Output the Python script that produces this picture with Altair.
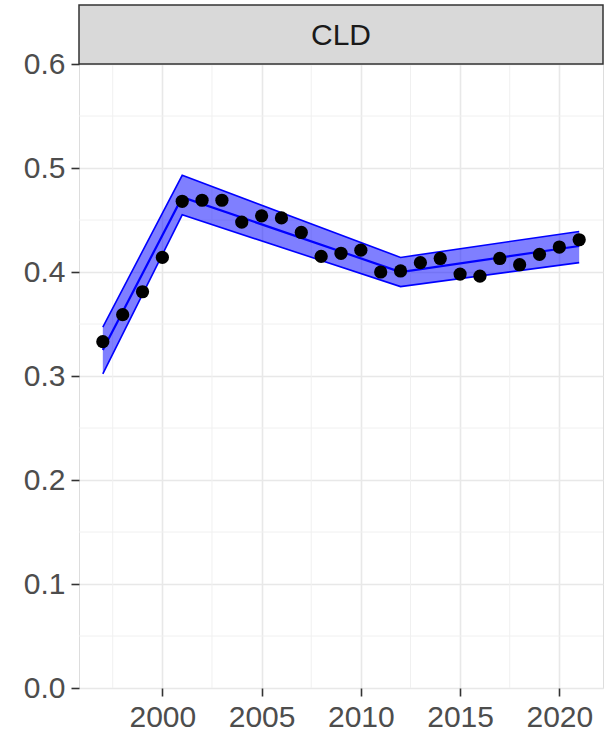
import altair as alt
import pandas as pd

# Observed yearly values
years = list(range(1997, 2022))
values = [0.333, 0.359, 0.381, 0.414, 0.468, 0.469, 0.469, 0.448, 0.454, 0.452,
          0.438, 0.415, 0.418, 0.421, 0.400, 0.401, 0.409, 0.413, 0.398, 0.396,
          0.413, 0.407, 0.417, 0.424, 0.431]

# Joinpoint fit with its confidence band (segments are straight between knots)
knot_years = [1997, 2001, 2012, 2021]
fit = [0.325, 0.472, 0.400, 0.425]
fit_lower = [0.302, 0.455, 0.386, 0.409]
fit_upper = [0.347, 0.493, 0.414, 0.439]

panel_label = ["CLD"]

# Gridline positions (ggplot-style major / minor breaks)
x_major = [2000, 2005, 2010, 2015, 2020]
x_minor = [1997.5, 2002.5, 2007.5, 2012.5, 2017.5]
y_major = [0.0, 0.1, 0.2, 0.3, 0.4, 0.5, 0.6]
y_minor = [0.05, 0.15, 0.25, 0.35, 0.45, 0.55]

W, H = 524, 624
FONT = "Liberation Sans"
FS = 30

obs = pd.DataFrame({"year": years, "value": values})
fit_df = pd.DataFrame({"year": knot_years, "fit": fit, "lo": fit_lower, "hi": fit_upper})
strip_df = pd.DataFrame({"label": panel_label})

x_scale = alt.Scale(domain=[1995.8, 2022.2], nice=False, zero=False)
y_scale = alt.Scale(domain=[0, 0.6], nice=False)

x_axis = alt.Axis(values=x_major, format="d", title=None, grid=True,
                  gridColor="#E8E8E8", gridWidth=1.6, domain=False,
                  tickColor="#333333", tickWidth=1.6, tickSize=8,
                  labelFont=FONT, labelFontSize=FS, labelColor="#4D4D4D",
                  labelPadding=6)
y_axis = alt.Axis(values=y_major, format=".1f", title=None, grid=True,
                  gridColor="#E8E8E8", gridWidth=1.6, domain=False,
                  tickColor="#333333", tickWidth=1.6, tickSize=8,
                  labelFont=FONT, labelFontSize=FS, labelColor="#4D4D4D",
                  labelPadding=6)

minor_x = alt.Chart(pd.DataFrame({"x": x_minor})).mark_rule(
    color="#F0F0F0", strokeWidth=1.0
).encode(x=alt.X("x:Q", scale=x_scale, axis=x_axis))

minor_y = alt.Chart(pd.DataFrame({"y": y_minor})).mark_rule(
    color="#F0F0F0", strokeWidth=1.0
).encode(y=alt.Y("y:Q", scale=y_scale, axis=y_axis))

band = alt.Chart(fit_df).mark_area(color="#0000FF", opacity=0.5).encode(
    x=alt.X("year:Q", scale=x_scale, axis=x_axis),
    y=alt.Y("lo:Q", scale=y_scale, axis=y_axis),
    y2="hi:Q",
)


def fit_edge(field, width):
    return alt.Chart(fit_df).mark_line(color="#0000FF", strokeWidth=width).encode(
        x=alt.X("year:Q", scale=x_scale, axis=x_axis),
        y=alt.Y(f"{field}:Q", scale=y_scale, axis=y_axis),
    )


lower_edge = fit_edge("lo", 1.6)
upper_edge = fit_edge("hi", 1.6)
fit_line = fit_edge("fit", 2.2)

points = alt.Chart(obs).mark_circle(color="black", size=175, opacity=1).encode(
    x=alt.X("year:Q", scale=x_scale, axis=x_axis),
    y=alt.Y("value:Q", scale=y_scale, axis=y_axis),
)

# Facet strip drawn above the panel
strip_box = alt.Chart(strip_df).mark_rect(
    fill="#D9D9D9", stroke="#333333", strokeWidth=1.5, clip=False
).encode(
    x=alt.value(0), x2=alt.value(W), y=alt.value(-59), y2=alt.value(0)
)
strip_text = alt.Chart(strip_df).mark_text(
    font=FONT, fontSize=FS, color="#1A1A1A", baseline="middle", align="center", clip=False
).encode(
    x=alt.value(W / 2), y=alt.value(-28), text="label:N"
)

chart = alt.layer(
    minor_x, minor_y, band, lower_edge, upper_edge, fit_line, points,
    strip_box, strip_text
).properties(
    width=W, height=H,
    autosize=alt.AutoSizeParams(type="none"),
    padding={"left": 79, "top": 64, "right": 5, "bottom": 48},
).configure_view(
    stroke="#333333", strokeWidth=1.6
).configure(background="white")

chart.save("out.html", embed_options={"renderer": "svg", "actions": False})
